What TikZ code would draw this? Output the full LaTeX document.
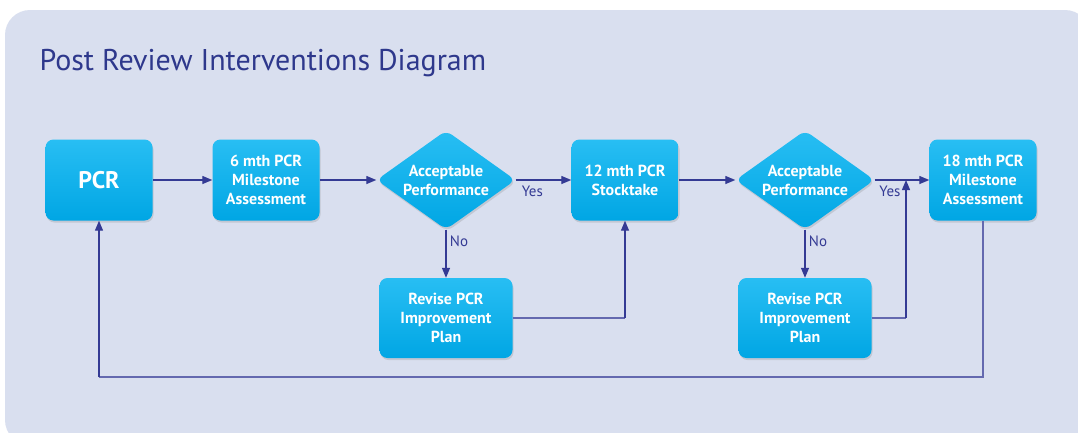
\documentclass[tikz,border=0pt]{standalone}
\usepackage{fontspec}
\setmainfont{PT Sans}
\usetikzlibrary{shapes.geometric,arrows.meta,shadows}
\definecolor{bgpanel}{RGB}{217,223,239}
\definecolor{linecol}{RGB}{52,58,148}
\definecolor{loopcol}{RGB}{100,105,175}
\definecolor{titlecol}{RGB}{46,56,140}
\definecolor{boxtop}{RGB}{40,190,243}
\definecolor{boxbot}{RGB}{0,166,228}
\tikzset{
  x=1pt, y=-1pt,
  boxbase/.style={top color=boxtop, bottom color=boxbot, draw=none,
    text=white, font=\fontsize{16}{19}\selectfont\bfseries, align=center,
    drop shadow={opacity=0.25, shadow xshift=1pt, shadow yshift=-2pt}},
  stepbox/.style={boxbase, rectangle, rounded corners=8pt,
    minimum width=107pt, minimum height=81pt, inner sep=2pt},
  revbox/.style={boxbase, rectangle, rounded corners=8pt,
    minimum width=133pt, minimum height=80pt, inner sep=2pt},
  decbox/.style={boxbase, diamond, rounded corners=7pt, aspect=1.4,
    minimum width=139pt, minimum height=99pt, inner sep=0pt},
  conn/.style={draw=linecol, line width=1.3pt, -{Triangle[length=10pt,width=8pt]}},
  plain/.style={draw=loopcol, line width=1.2pt},
  lbl/.style={text=linecol, font=\fontsize{15}{17}\selectfont}
}
\begin{document}
\begin{tikzpicture}
\useasboundingbox (0,0) rectangle (1078,432);
\fill[white] (0,0) rectangle (1078,432);
\fill[bgpanel, rounded corners=25pt] (5,10) rectangle (1090,445);
\node[anchor=base west, text=titlecol, font=\fontsize{30}{34}\selectfont] (title) at (36,70) {Post Review Interventions Diagram};

\node[stepbox, font=\fontsize{24}{28}\selectfont\bfseries] (pcr) at (99,180) {PCR};
\node[stepbox] (m6) at (266,180) {6 mth PCR\\Milestone\\Assessment};
\node[decbox] (d1) at (446,180) {Acceptable\\Performance};
\node[stepbox] (m12) at (625,180) {12 mth PCR\\Stocktake};
\node[decbox] (d2) at (805,180) {Acceptable\\Performance};
\node[stepbox] (m18) at (983,180) {18 mth PCR\\Milestone\\Assessment};
\node[revbox] (r1) at (446,318) {Revise PCR\\Improvement\\Plan};
\node[revbox] (r2) at (805,318) {Revise PCR\\Improvement\\Plan};

\coordinate (j2) at (906,180);
\coordinate (k1) at (625,318);
\coordinate (k2) at (906,318);
\coordinate (l1) at (983,377);
\coordinate (l2) at (99,377);

\draw[conn] (pcr) -- (m6);
\draw[conn] (m6) -- (d1);
\draw[conn] (d1) -- node[lbl, below, pos=0.3, yshift=-2pt] {Yes} (m12);
\draw[conn] (d1) -- node[lbl, right, pos=0.25] {No} (r1);
\draw[plain] (r1.east) -- (k1);
\draw[conn] (k1) -- (m12.south);
\draw[conn] (m12) -- (d2);
\draw[conn] (d2) -- node[lbl, below, pos=0.28, yshift=-2pt] {Yes} (m18);
\draw[conn] (d2) -- node[lbl, right, pos=0.25] {No} (r2);
\draw[plain] (r2.east) -- (k2);
\draw[conn] (k2) -- (j2);
\draw[plain] (m18.south) -- (l1) -- (l2);
\draw[conn] (l2) -- (pcr.south);
\end{tikzpicture}
\end{document}
